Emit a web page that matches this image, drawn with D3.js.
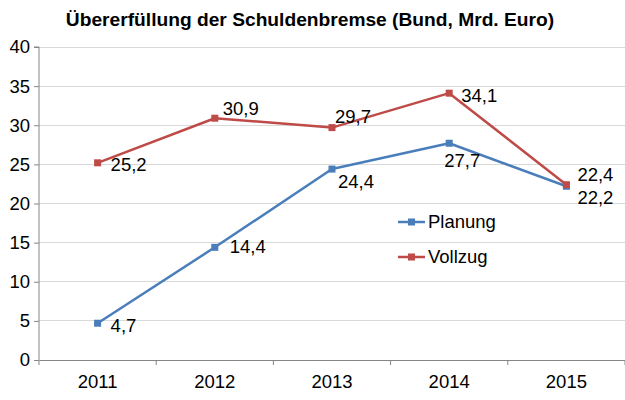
<!DOCTYPE html>
<html><head><meta charset="utf-8">
<script src="https://cdn.jsdelivr.net/npm/d3@7"></script>
<style>body{margin:0;background:#fff}svg{display:block}text{font-family:"Liberation Sans",Arial,sans-serif;fill:#000}</style>
</head><body><svg id="c" width="625" height="400"></svg>
<script>
const title = "Übererfüllung der Schuldenbremse (Bund, Mrd. Euro)";
const categories = ["2011","2012","2013","2014","2015"];
const planung = [4.7, 14.4, 24.4, 27.7, 22.2];
const vollzug = [25.2, 30.9, 29.7, 34.1, 22.4];
const yTicks = [0,5,10,15,20,25,30,35,40];
const seriesNames = ["Planung","Vollzug"];
const colors = ["#4A7EBB","#BE4B48"];

const FS = 18.5;
const svg = d3.select("#c");
const m = {l:39, r:625, t:47, b:360};
const x = d3.scaleBand().domain(categories).range([m.l, m.r]);
const y = d3.scaleLinear().domain([0,40]).range([m.b, m.t]);
const fmt = v => d3.format(".1f")(v).replace(".", ",");

svg.append("text").attr("x",310).attr("y",26).attr("text-anchor","middle")
  .attr("font-weight","bold").attr("font-size",19.2).text(title);

// gridlines
svg.append("g").selectAll("line").data(yTicks.filter(d=>d>0)).join("line")
  .attr("x1",m.l).attr("x2",m.r).attr("y1",d=>y(d)).attr("y2",d=>y(d))
  .attr("stroke","#d9d9d9").attr("stroke-width",1).attr("shape-rendering","crispEdges");

// y axis
const ya = svg.append("g").attr("transform",`translate(${m.l},0)`)
  .call(d3.axisLeft(y).tickValues(yTicks).tickSize(5).tickPadding(4).tickFormat(d3.format("d")));
ya.select(".domain").attr("stroke","#868686").attr("d",`M-5,${m.t}H0V${m.b}`);
ya.selectAll(".tick line").attr("stroke","#868686");
ya.selectAll("text").attr("font-size",FS).attr("font-family","Liberation Sans, Arial, sans-serif").attr("fill","#000");

// x axis
const xa = svg.append("g").attr("transform",`translate(0,${m.b})`)
  .call(d3.axisBottom(x).tickSize(0).tickPadding(15));
xa.select(".domain").attr("stroke","#868686");
xa.selectAll("text").attr("font-size",FS).attr("font-family","Liberation Sans, Arial, sans-serif").attr("fill","#000");
const bounds = categories.map(c=>x(c)).concat([m.r]);
xa.append("g").selectAll("line").data(bounds).join("line")
  .attr("x1",d=>d).attr("x2",d=>d).attr("y1",0).attr("y2",5).attr("stroke","#868686");

const cx = c => x(c) + x.bandwidth()/2;
const line = d3.line().x((d,i)=>cx(categories[i])).y(d=>y(d));

const data = [planung, vollzug];
data.forEach((vals,si)=>{
  svg.append("path").attr("d",line(vals)).attr("fill","none")
    .attr("stroke",colors[si]).attr("stroke-width",2.5).attr("stroke-linejoin","round");
  svg.append("g").selectAll("rect").data(vals).join("rect")
    .attr("x",(d,i)=>cx(categories[i])-3.5).attr("y",d=>y(d)-3.5)
    .attr("width",7).attr("height",7).attr("fill",colors[si]);
});

// data label placement (relative to point): dx, dy
const offP = [[13,2],[15,-1],[6,12],[-5,17],[11,11]];
const offV = [[13,2],[8,-10],[3,-11],[12,2],[11,-10]];
[[planung,offP],[vollzug,offV]].forEach(([vals,off])=>{
  svg.append("g").selectAll("text").data(vals).join("text")
    .attr("x",(d,i)=>cx(categories[i])+off[i][0])
    .attr("y",(d,i)=>y(d)+off[i][1])
    .attr("dy","0.35em").attr("font-size",FS).text(d=>fmt(d));
});

// legend
const lg = svg.append("g");
seriesNames.forEach((n,i)=>{
  const yy = 222 + i*35;
  lg.append("line").attr("x1",398).attr("x2",425).attr("y1",yy).attr("y2",yy)
    .attr("stroke",colors[i]).attr("stroke-width",2.5);
  lg.append("rect").attr("x",408).attr("y",yy-3.5).attr("width",7).attr("height",7).attr("fill",colors[i]);
  lg.append("text").attr("x",428).attr("y",yy).attr("dy","0.35em").attr("font-size",FS).text(n);
});
</script></body></html>
